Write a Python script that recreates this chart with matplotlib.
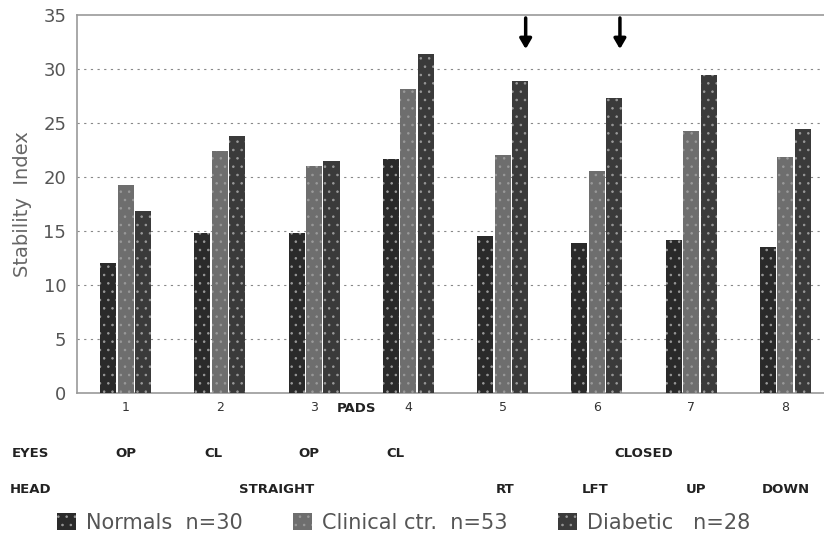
import matplotlib
matplotlib.use("Agg")
import matplotlib.pyplot as plt
import numpy as np
from matplotlib.patches import Patch

# data
pads = [1, 2, 3, 4, 5, 6, 7, 8]
tick_labels = ["1", "2", "3", "4", "5", "6", "7", "8"]
normals = [12.0, 14.8, 14.8, 21.7, 14.5, 13.9, 14.2, 13.5]
clinical = [19.3, 22.4, 21.0, 28.2, 22.0, 20.6, 24.3, 21.9]
diabetic = [16.9, 23.8, 21.5, 31.4, 28.9, 27.3, 29.5, 24.5]
series_labels = ["Normals  n=30", "Clinical ctr.  n=53", "Diabetic   n=28"]
arrow_pads = [5, 6]
eyes_labels = [(1, "OP"), (1.93, "CL"), (2.95, "OP"), (3.86, "CL"), (6.5, "CLOSED")]
head_labels = [(2.6, "STRAIGHT"), (5.03, "RT"), (5.98, "LFT"), (7.05, "UP"), (8.0, "DOWN")]

colors = ["#2a2a2a", "#6e6e6e", "#3a3a3a"]
plt.rcParams["hatch.linewidth"] = 0.6

fig = plt.figure(figsize=(8.24, 5.42), dpi=100)
ax = fig.add_axes([0.094, 0.275, 0.906, 0.697])

x = np.array(pads, dtype=float)
w = 0.17
off = 0.185
for i, (vals, c) in enumerate(zip([normals, clinical, diabetic], colors)):
    ax.bar(x + (i - 1) * off, vals, width=w, color=c, edgecolor="#9a9a9a",
           hatch="..", linewidth=0, zorder=3)

ax.set_ylim(0, 35)
ax.set_xlim(0.49, 8.41)
ax.set_yticks(range(0, 36, 5))
ax.set_yticklabels([str(v) for v in range(0, 36, 5)], fontsize=13, color="#555555")
ax.set_xticks(x)
ax.set_xticklabels(tick_labels, fontsize=9, color="#333333")
ax.tick_params(axis="both", length=0)
ax.tick_params(axis="y", pad=8)
ax.tick_params(axis="x", pad=6)
for g in range(5, 35, 5):
    ax.axhline(g, color="#888888", linestyle=(0, (2, 4)), linewidth=0.8, zorder=1)
for s in ["left", "top", "bottom"]:
    ax.spines[s].set_color("#999999")
    ax.spines[s].set_linewidth(1.2)
ax.spines["right"].set_visible(False)
ax.set_ylabel("Stability  Index", fontsize=14, color="#666666", labelpad=8)

# arrows above the diabetic bars
for p in arrow_pads:
    ax.annotate("", xy=(p + 0.245, 31.6), xytext=(p + 0.245, 35),
                arrowprops=dict(arrowstyle="-|>,head_width=0.35,head_length=0.6",
                                color="black", lw=2.5), zorder=5)

trans = ax.get_xaxis_transform()
bold = dict(fontsize=9.5, fontweight="bold", color="#222222", ha="center",
            va="center", family="DejaVu Sans")
ax.text(3.45, -0.04, "PADS", transform=trans, **bold)
ax.text(-0.01, -0.16, "EYES", transform=trans, **bold)
ax.text(-0.01, -0.255, "HEAD", transform=trans, **bold)
for px, t in eyes_labels:
    ax.text(px, -0.16, t, transform=trans, **bold)
for px, t in head_labels:
    ax.text(px, -0.255, t, transform=trans, **bold)

handles = [Patch(facecolor=c, edgecolor="#9a9a9a", hatch="..", linewidth=0) for c in colors]
fig.legend(handles, series_labels, loc="center", bbox_to_anchor=(0.49, 0.035),
           ncol=3, frameon=False, fontsize=15, handlelength=0.9, handleheight=0.9,
           handletextpad=0.5, columnspacing=2.4, labelcolor="#555555")

fig.savefig("out.png", dpi=100)
